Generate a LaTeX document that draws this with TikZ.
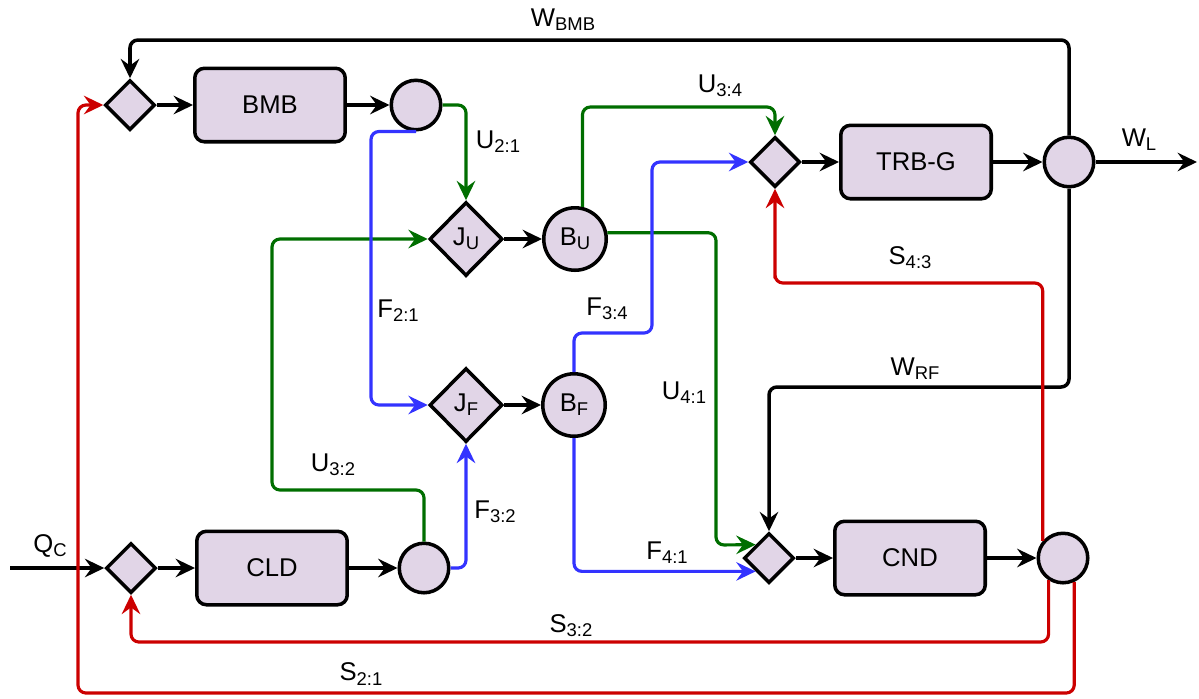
\documentclass[tikz,border=0pt]{standalone}
\usepackage{fontspec}
\setmainfont{Liberation Sans}
\usetikzlibrary{shapes.geometric,arrows.meta,calc}
\definecolor{fillc}{RGB}{225,213,231}
\definecolor{gr}{RGB}{0,110,0}
\definecolor{bl}{RGB}{51,51,255}
\definecolor{rd}{RGB}{204,0,0}
\newcommand{\lsub}[1]{\raisebox{-2.4pt}{\fontsize{10.5}{11}\selectfont #1}}
\begin{document}
\begin{tikzpicture}[x=0.02cm,y=-0.02cm,
  font=\fontsize{14.6}{17}\selectfont,
  shp/.style={draw, line width=2pt, fill=fillc, inner sep=0pt},
  box/.style={shp, rectangle, rounded corners=5.5pt, minimum width=3.01cm, minimum height=1.47cm},
  sdia/.style={shp, diamond, minimum width=1.0cm, minimum height=1.0cm},
  jdia/.style={shp, diamond, minimum width=1.46cm, minimum height=1.48cm},
  scirc/.style={shp, circle, minimum size=0.99cm},
  bcirc/.style={shp, circle, minimum size=1.25cm},
  conn/.style={line width=2pt, rounded corners=4.5pt, -{Stealth[length=11pt,width=10.5pt,inset=3.8pt]}},
  cconn/.style={conn, line width=1.8pt},
  lbl/.style={inner sep=0pt}]
\useasboundingbox (0,0) rectangle (1199,698);

% nodes
\node[sdia] (D1) at (130,105) {};
\node[box] (BMB) at (270,105) {BMB};
\node[scirc] (C1) at (416,105) {};
\node[jdia] (JU) at (466,239) {J\lsub{U}};
\node[bcirc] (BU) at (575,239) {B\lsub{U}};
\node[jdia] (JF) at (466,405) {J\lsub{F}};
\node[bcirc] (BF) at (574,405) {B\lsub{F}};
\node[sdia] (D3) at (775,162) {};
\node[box] (TRB) at (916,162) {TRB-G};
\node[scirc] (C3) at (1069,162) {};
\node[sdia] (D2) at (131,568) {};
\node[box] (CLD) at (272,568) {CLD};
\node[scirc] (C2) at (424,568) {};
\node[sdia] (D4) at (769,558) {};
\node[box] (CND) at (910,558) {CND};
\node[scirc] (C4) at (1063,558) {};

\coordinate (qin) at (10,568);
\coordinate (wl) at (1197,162);
\coordinate (D4a) at ($(D4.west)!.5!(D4.north)$);
\coordinate (D4b) at ($(D4.west)!.5!(D4.south)$);

% black flows
\draw[conn] (qin) -- (D2.west);
\draw[conn] (D2.east) -- (CLD.west);
\draw[conn] (CLD.east) -- (C2.west);
\draw[conn] (D1.east) -- (BMB.west);
\draw[conn] (BMB.east) -- (C1.west);
\draw[conn] (JU.east) -- (BU.west);
\draw[conn] (JF.east) -- (BF.west);
\draw[conn] (D3.east) -- (TRB.west);
\draw[conn] (TRB.east) -- (C3.west);
\draw[conn] (C3.east) -- (wl);
\draw[conn] (D4.east) -- (CND.west);
\draw[conn] (CND.east) -- (C4.west);
\draw[conn] (C3.north) -- (1069,40) -| (D1.north);
\draw[conn] (C3.south) -- (1069,387) -| (D4.north);

% green flows
\draw[cconn, gr] (C1.east) -| (JU.north);
\draw[cconn, gr] (C2.north) |- (272,490) |- (JU.west);
\draw[cconn, gr] (BU.77) |- (700,107) -| (D3.north);
\draw[cconn, gr] (BU.11) -| (716,545) -- (D4a);

% blue flows
\draw[cconn, bl] (C1.south) -| (371,405) -- (JF.west);
\draw[cconn, bl] (C2.east) -| (JF.south);
\draw[cconn, bl] (BF.north) |- (652,333) |- (D3.west);
\draw[cconn, bl] (BF.south) |- (D4b);

% red flows
\draw[cconn, rd] (C4.140) |- (775,283) -| (D3.south);
\draw[cconn, rd] (C4.237) |- (131,642) -- (D2.south);
\draw[cconn, rd] (C4.295) |- (78,693) |- (D1.west);

% labels
\node[lbl] (lWBMB) at (563,20) {W\lsub{BMB}};
\node[lbl] (lU34) at (720,86) {U\lsub{3:4}};
\node[lbl] (lU21) at (498,142) {U\lsub{2:1}};
\node[lbl] (lWL) at (1139,140) {W\lsub{L}};
\node[lbl] (lS43) at (910,258) {S\lsub{4:3}};
\node[lbl] (lF21) at (398,311) {F\lsub{2:1}};
\node[lbl] (lF34) at (607,309) {F\lsub{3:4}};
\node[lbl] (lWRF) at (915,369) {W\lsub{RF}};
\node[lbl] (lU41) at (684,393) {U\lsub{4:1}};
\node[lbl] (lU32) at (333,465) {U\lsub{3:2}};
\node[lbl] (lF32) at (495,512) {F\lsub{3:2}};
\node[lbl] (lQC) at (50,546) {Q\lsub{C}};
\node[lbl] (lF41) at (667,553) {F\lsub{4:1}};
\node[lbl] (lS32) at (571,626) {S\lsub{3:2}};
\node[lbl] (lS21) at (361,674) {S\lsub{2:1}};
\end{tikzpicture}
\end{document}
